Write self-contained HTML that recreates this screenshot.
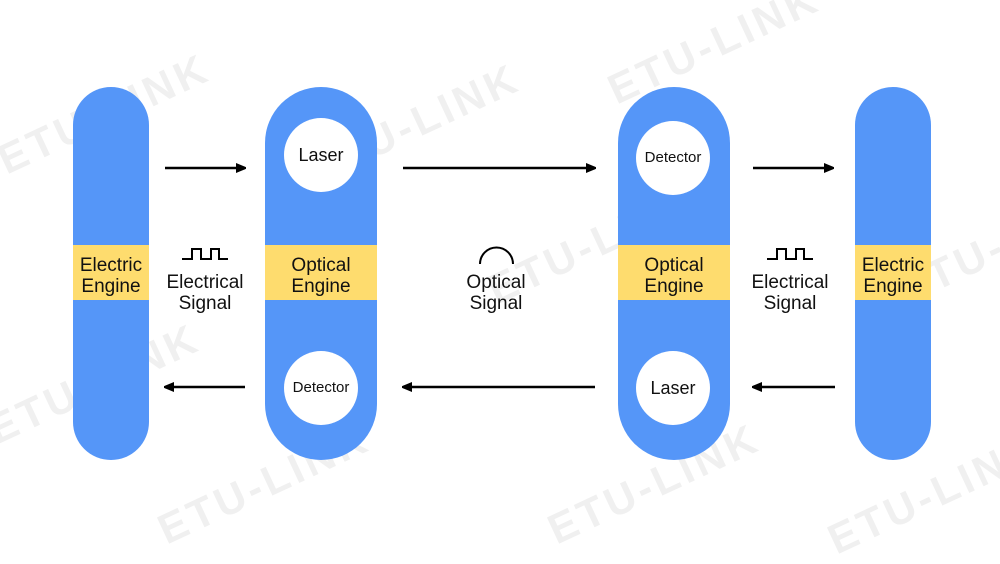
<!DOCTYPE html>
<html><head><style>
body{margin:0;width:1000px;height:539px;background:#fff;position:relative;overflow:hidden;font-family:"Liberation Sans",Arial,sans-serif}
.pill{position:absolute;background:#5596f8;top:87px;height:373px}
.band{position:absolute;left:0;right:0;top:158px;height:55px;background:#fedc6e;text-align:center;font-size:19px;line-height:21px;padding-top:10px;box-sizing:border-box;color:#111}
.c{position:absolute;width:74px;height:74px;border-radius:50%;background:#fff;text-align:center;line-height:74px;color:#111}
.lbl{position:absolute;text-align:center;font-size:19px;line-height:21px;color:#111}
.wm{position:absolute;color:#f0f0f0;font-size:42px;font-weight:bold;transform:rotate(-25deg);letter-spacing:4px;white-space:nowrap}
</style></head><body>
<div class="wm" style="left:-10px;top:90px">ETU-LINK</div>
<div class="wm" style="left:300px;top:100px">ETU-LINK</div>
<div class="wm" style="left:600px;top:20px">ETU-LINK</div>
<div class="wm" style="left:480px;top:220px">ETU-LINK</div>
<div class="wm" style="left:-20px;top:360px">ETU-LINK</div>
<div class="wm" style="left:150px;top:460px">ETU-LINK</div>
<div class="wm" style="left:540px;top:460px">ETU-LINK</div>
<div class="wm" style="left:820px;top:470px">ETU-LINK</div>
<div class="wm" style="left:890px;top:220px">ETU-LINK</div>

<div class="pill" style="left:73px;width:76px;border-radius:38px"><div class="band">Electric<br>Engine</div></div>
<div class="pill" style="left:265px;width:112px;border-radius:56px"><div class="band">Optical<br>Engine</div>
<div class="c" style="left:19px;top:31px;font-size:18px">Laser</div>
<div class="c" style="left:19px;top:264px;font-size:15px">Detector</div></div>
<div class="pill" style="left:618px;width:112px;border-radius:56px"><div class="band">Optical<br>Engine</div>
<div class="c" style="left:18px;top:34px;font-size:15px">Detector</div>
<div class="c" style="left:18px;top:264px;font-size:18px">Laser</div></div>
<div class="pill" style="left:855px;width:76px;border-radius:38px"><div class="band">Electric<br>Engine</div></div>

<div class="lbl" style="left:155px;width:100px;top:272px">Electrical<br>Signal</div>
<div class="lbl" style="left:446px;width:100px;top:272px">Optical<br>Signal</div>
<div class="lbl" style="left:740px;width:100px;top:272px">Electrical<br>Signal</div>

<svg width="1000" height="539" style="position:absolute;left:0;top:0">
<defs><marker id="a" markerWidth="10" markerHeight="10" refX="9" refY="5" orient="auto" markerUnits="userSpaceOnUse"><path d="M0,0L12,5L0,10z" fill="#000"/></marker></defs>
<g stroke="#000" stroke-width="2.5" marker-end="url(#a)">
<line x1="165" y1="168" x2="245" y2="168"/>
<line x1="403" y1="168" x2="595" y2="168"/>
<line x1="753" y1="168" x2="833" y2="168"/>
<line x1="245" y1="387" x2="165" y2="387"/>
<line x1="595" y1="387" x2="403" y2="387"/>
<line x1="835" y1="387" x2="753" y2="387"/>
</g>
<g fill="none" stroke="#000" stroke-width="2">
<path d="M182,259H192V249H201V259H211V249H219V259H228"/>
<path d="M767,259H777V249H786V259H796V249H804V259H813"/>
<path d="M480,264A16.5,16.5 0 0 1 513,264"/>
</g>
</svg>
</body></html>
